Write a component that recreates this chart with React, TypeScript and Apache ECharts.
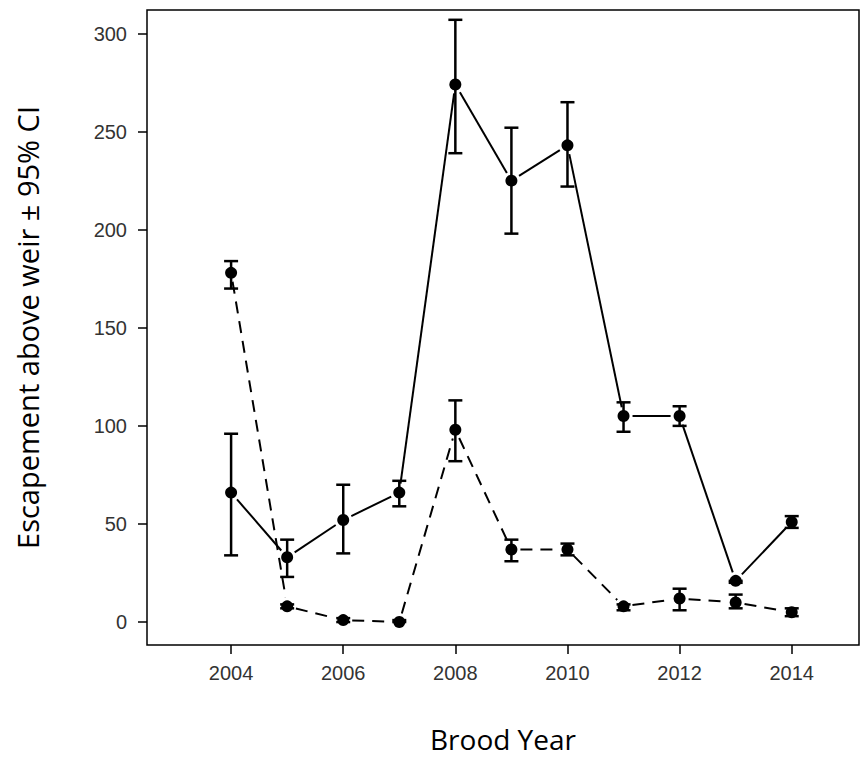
import React, { useEffect, useRef } from 'react';
import * as echarts from 'echarts';

const years = [2004, 2005, 2006, 2007, 2008, 2009, 2010, 2011, 2012, 2013, 2014];
const solidVals = [66, 33, 52, 66, 274, 225, 243, 105, 105, 21, 51];
const solidLow = [34, 23, 35, 59, 239, 198, 222, 97, 100, 20, 48];
const solidHigh = [96, 42, 70, 72, 307, 252, 265, 112, 110, 21, 54];
const dashVals = [178, 8, 1, 0, 98, 37, 37, 8, 12, 10, 5];
const dashLow = [170, 7, 0, 0, 82, 31, 34, 6, 6, 7, 3];
const dashHigh = [184, 9, 2, 1, 113, 42, 40, 9, 17, 14, 7];
const xTicks = [2004, 2006, 2008, 2010, 2012, 2014];
const yTicks = [0, 50, 100, 150, 200, 250, 300];

const segSeries = (vals: number[], dashed: boolean) => ({
  type: 'custom',
  data: vals.slice(0, -1).map((v, i) => [years[i], v, years[i + 1], vals[i + 1]]),
  renderItem: (params: any, api: any) => {
    const a = api.coord([api.value(0), api.value(1)]);
    const b = api.coord([api.value(2), api.value(3)]);
    const dx = b[0] - a[0], dy = b[1] - a[1];
    const len = Math.sqrt(dx * dx + dy * dy);
    const gap = 9;
    if (len < gap * 2 + 2) return null;
    const ux = dx / len, uy = dy / len;
    return {
      type: 'line',
      shape: { x1: a[0] + ux * gap, y1: a[1] + uy * gap, x2: b[0] - ux * gap, y2: b[1] - uy * gap },
      style: { stroke: '#000', lineWidth: 2, lineDash: dashed ? [12, 8] : null },
    };
  },
  z: 2,
});

const errSeries = (low: number[], high: number[]) => ({
  type: 'custom',
  data: years.map((y, i) => [y, low[i], high[i]]),
  renderItem: (params: any, api: any) => {
    const lo = api.coord([api.value(0), api.value(1)]);
    const hi = api.coord([api.value(0), api.value(2)]);
    const w = 7;
    const st = { stroke: '#000', lineWidth: 2.5 };
    return {
      type: 'group',
      children: [
        { type: 'line', shape: { x1: lo[0], y1: lo[1], x2: hi[0], y2: hi[1] }, style: st },
        { type: 'line', shape: { x1: lo[0] - w, y1: lo[1], x2: lo[0] + w, y2: lo[1] }, style: st },
        { type: 'line', shape: { x1: hi[0] - w, y1: hi[1], x2: hi[0] + w, y2: hi[1] }, style: st },
      ],
    };
  },
  z: 3,
});

const App: React.FC = () => {
  const ref = useRef<HTMLDivElement>(null);

  useEffect(() => {
    if (!ref.current) return;
    document.body.style.margin = '0';
    const chart = echarts.init(ref.current, null, { renderer: 'svg' });
    chart.setOption({
      animation: false,
      backgroundColor: '#fff',
      textStyle: { fontFamily: 'Liberation Sans' },
      grid: {
        left: 147, top: 10, width: 712, height: 635, show: true, outerBoundsMode: 'none',
        borderColor: '#000', borderWidth: 1.5, backgroundColor: 'transparent',
      },
      xAxis: {
        type: 'value', min: 2002.5, max: 2015.2,
        name: 'Brood Year', nameLocation: 'middle', nameGap: 80,
        nameTextStyle: { fontSize: 28, color: '#000', fontFamily: 'Open Sans' },
        axisLine: { show: false, onZero: false },
        axisTick: { show: true, length: 9, lineStyle: { color: '#000', width: 1.5 }, customValues: xTicks },
        axisLabel: { fontSize: 20, color: '#333', margin: 18, customValues: xTicks, formatter: (v: number) => String(v) },
        splitLine: { show: false },
      },
      yAxis: {
        type: 'value', min: -11.7, max: 312,
        name: 'Escapement above weir ± 95% CI', nameLocation: 'middle', nameGap: 105,
        nameTextStyle: { fontSize: 29, color: '#000', fontFamily: 'Open Sans' },
        axisLine: { show: false, onZero: false },
        axisTick: { show: true, length: 9, lineStyle: { color: '#000', width: 1.5 }, customValues: yTicks },
        axisLabel: { fontSize: 20, color: '#333', margin: 20, customValues: yTicks },
        splitLine: { show: false },
      },
      series: [
        segSeries(solidVals, false),
        segSeries(dashVals, true),
        errSeries(solidLow, solidHigh),
        errSeries(dashLow, dashHigh),
        { type: 'scatter', data: years.map((y, i) => [y, solidVals[i]]), symbolSize: 12, itemStyle: { color: '#000', opacity: 1 }, z: 4 },
        { type: 'scatter', data: years.map((y, i) => [y, dashVals[i]]), symbolSize: 12, itemStyle: { color: '#000', opacity: 1 }, z: 4 },
      ],
    });
    return () => chart.dispose();
  }, []);

  return <div ref={ref} style={{ width: 865, height: 759 }} />;
};

export default App;
